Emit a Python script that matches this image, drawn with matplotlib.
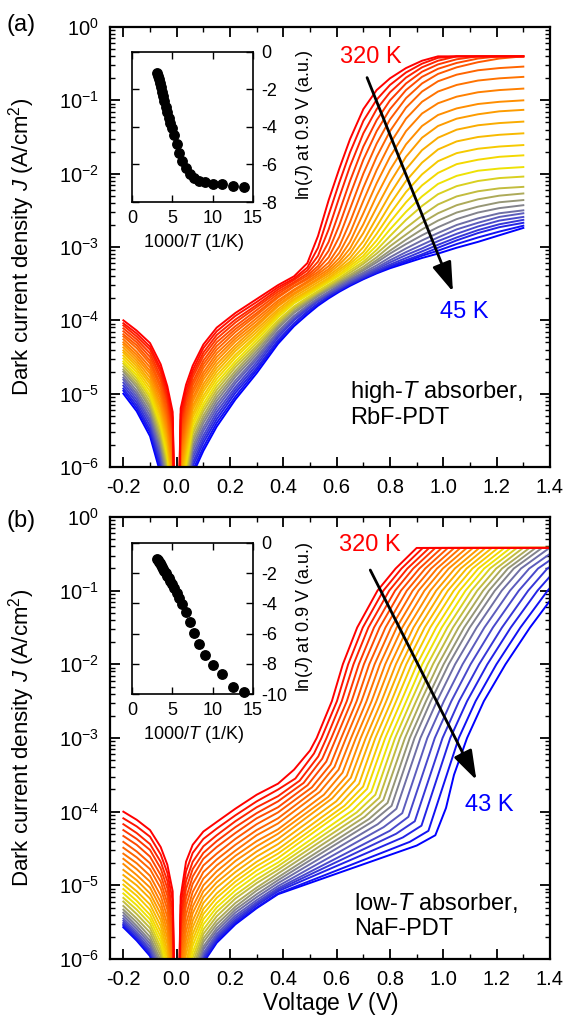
import matplotlib
matplotlib.use("Agg")
import matplotlib.pyplot as plt
from matplotlib.colors import LinearSegmentedColormap
from matplotlib.patches import FancyArrowPatch
from matplotlib.ticker import (MultipleLocator, FixedLocator, LogLocator, LogFormatterMathtext,
                               NullFormatter, FormatStrFormatter)

plt.rcParams['font.family'] = ['Liberation Sans', 'DejaVu Sans']
plt.rcParams['mathtext.fontset'] = 'custom'
plt.rcParams['mathtext.rm'] = 'Liberation Sans'
plt.rcParams['mathtext.it'] = 'Liberation Sans:italic'
plt.rcParams['axes.unicode_minus'] = False

# temperatures of the J-V curves (K), hot -> cold
temps_a = [320, 310, 300, 290, 280, 270, 260, 250, 240, 230, 220, 210, 200, 190,
           180, 170, 160, 150, 140, 130, 120, 110, 100, 90, 80, 70, 58, 45]
temps_b = [320, 310, 300, 290, 280, 270, 260, 250, 240, 230, 220, 210, 200, 190,
           180, 170, 160, 150, 140, 130, 120, 110, 100, 90, 80, 70, 56, 43]

# voltage nodes of the low-bias part shared by all curves (V)
v_lo = [-0.2, -0.15, -0.1, -0.06, -0.035, -0.015, 0.0, 0.015, 0.035, 0.06, 0.1, 0.15, 0.22, 0.3]

# panel (a), low bias: log10 J, one row per node of v_lo, one column per curve
logj_a_lo = [
    [-4.00, -4.04, -4.07, -4.11, -4.15, -4.19, -4.22, -4.26, -4.30, -4.33, -4.37, -4.41, -4.44, -4.48,
     -4.52, -4.56, -4.59, -4.63, -4.67, -4.70, -4.74, -4.78, -4.81, -4.85, -4.89, -4.93, -4.96, -5.00],
    [-4.14, -4.18, -4.22, -4.26, -4.30, -4.34, -4.38, -4.43, -4.47, -4.51, -4.55, -4.59, -4.63, -4.67,
     -4.71, -4.75, -4.79, -4.83, -4.87, -4.91, -4.96, -5.00, -5.04, -5.08, -5.12, -5.16, -5.20, -5.24],
    [-4.31, -4.36, -4.40, -4.45, -4.50, -4.55, -4.59, -4.64, -4.69, -4.73, -4.78, -4.83, -4.87, -4.92,
     -4.97, -5.02, -5.06, -5.11, -5.16, -5.20, -5.25, -5.30, -5.35, -5.39, -5.44, -5.49, -5.53, -5.58],
    [-4.60, -4.66, -4.71, -4.77, -4.82, -4.88, -4.93, -4.99, -5.04, -5.10, -5.16, -5.21, -5.27, -5.32,
     -5.38, -5.43, -5.49, -5.54, -5.60, -5.66, -5.71, -5.77, -5.82, -5.88, -5.93, -5.99, -6.04, -6.10],
    [-4.90, -4.96, -5.03, -5.09, -5.15, -5.22, -5.28, -5.34, -5.40, -5.47, -5.53, -5.59, -5.66, -5.72,
     -5.78, -5.84, -5.91, -5.97, -6.03, -6.10, -6.16, -6.22, -6.29, -6.35, -6.41, -6.47, -6.54, -6.60],
    [-5.25, -5.33, -5.41, -5.49, -5.57, -5.65, -5.73, -5.81, -5.89, -5.97, -6.05, -6.13, -6.21, -6.29,
     -6.37, -6.44, -6.52, -6.60, -6.68, -6.76, -6.84, -6.92, -7.00, -7.08, -7.16, -7.24, -7.32, -7.40],
    [-8.0] * 28,
    [-5.20, -5.28, -5.36, -5.44, -5.53, -5.61, -5.69, -5.77, -5.85, -5.93, -6.02, -6.10, -6.18, -6.26,
     -6.34, -6.42, -6.50, -6.59, -6.67, -6.75, -6.83, -6.91, -6.99, -7.07, -7.16, -7.24, -7.32, -7.40],
    [-4.88, -4.95, -5.02, -5.09, -5.16, -5.24, -5.31, -5.38, -5.45, -5.52, -5.59, -5.66, -5.73, -5.80,
     -5.88, -5.95, -6.02, -6.09, -6.16, -6.23, -6.30, -6.37, -6.44, -6.52, -6.59, -6.66, -6.73, -6.80],
    [-4.62, -4.68, -4.73, -4.78, -4.84, -4.89, -4.95, -5.00, -5.06, -5.11, -5.17, -5.22, -5.28, -5.33,
     -5.39, -5.44, -5.50, -5.55, -5.61, -5.66, -5.72, -5.77, -5.83, -5.88, -5.94, -5.99, -6.05, -6.10],
    [-4.33, -4.38, -4.44, -4.49, -4.55, -4.60, -4.65, -4.71, -4.76, -4.81, -4.87, -4.92, -4.97, -5.03,
     -5.08, -5.14, -5.19, -5.24, -5.30, -5.35, -5.40, -5.46, -5.51, -5.57, -5.62, -5.67, -5.73, -5.78],
    [-4.10, -4.15, -4.20, -4.25, -4.30, -4.35, -4.40, -4.45, -4.50, -4.55, -4.60, -4.65, -4.70, -4.75,
     -4.80, -4.85, -4.90, -4.95, -5.00, -5.05, -5.10, -5.15, -5.20, -5.25, -5.30, -5.35, -5.40, -5.45],
    [-3.90, -3.94, -3.99, -4.03, -4.08, -4.12, -4.16, -4.21, -4.25, -4.29, -4.34, -4.38, -4.42, -4.47,
     -4.51, -4.56, -4.60, -4.64, -4.69, -4.73, -4.77, -4.82, -4.86, -4.91, -4.95, -4.99, -5.04, -5.08],
    [-3.71, -3.75, -3.79, -3.82, -3.86, -3.90, -3.93, -3.97, -4.01, -4.05, -4.08, -4.12, -4.16, -4.20,
     -4.23, -4.27, -4.31, -4.35, -4.38, -4.42, -4.46, -4.50, -4.53, -4.57, -4.61, -4.65, -4.68, -4.72],
]

# panel (a), higher bias: one row per curve on these nodes (V)
v_hi_a = [0.38, 0.44, 0.49, 0.53, 0.57, 0.61, 0.65, 0.7, 0.75, 0.8, 0.86, 0.92, 0.98, 1.05, 1.13, 1.21, 1.3]
logj_a_hi = [
    [-3.52, -3.40, -3.22, -2.85, -2.36, -1.93, -1.53, -1.12, -0.86, -0.70, -0.56, -0.46, -0.40, -0.40, -0.40, -0.40, -0.40],
    [-3.55, -3.43, -3.28, -3.01, -2.56, -2.12, -1.71, -1.28, -0.99, -0.79, -0.62, -0.50, -0.42, -0.40, -0.40, -0.40, -0.40],
    [-3.58, -3.45, -3.32, -3.12, -2.76, -2.32, -1.90, -1.45, -1.12, -0.89, -0.69, -0.55, -0.46, -0.40, -0.40, -0.40, -0.40],
    [-3.61, -3.48, -3.36, -3.20, -2.93, -2.52, -2.10, -1.63, -1.27, -1.00, -0.77, -0.61, -0.51, -0.44, -0.40, -0.40, -0.40],
    [-3.64, -3.50, -3.39, -3.26, -3.05, -2.70, -2.29, -1.81, -1.42, -1.12, -0.86, -0.68, -0.57, -0.49, -0.43, -0.40, -0.40],
    [-3.67, -3.53, -3.42, -3.30, -3.14, -2.86, -2.48, -2.00, -1.59, -1.26, -0.97, -0.77, -0.64, -0.55, -0.48, -0.43, -0.40],
    [-3.69, -3.54, -3.44, -3.34, -3.21, -2.99, -2.66, -2.19, -1.77, -1.42, -1.10, -0.88, -0.74, -0.65, -0.59, -0.56, -0.54],
    [-3.73, -3.58, -3.47, -3.37, -3.26, -3.08, -2.81, -2.37, -1.95, -1.59, -1.25, -1.02, -0.88, -0.79, -0.73, -0.70, -0.68],
    [-3.76, -3.60, -3.49, -3.40, -3.30, -3.15, -2.93, -2.54, -2.13, -1.77, -1.42, -1.18, -1.04, -0.95, -0.89, -0.86, -0.84],
    [-3.79, -3.63, -3.52, -3.43, -3.33, -3.20, -3.02, -2.69, -2.30, -1.95, -1.60, -1.35, -1.20, -1.11, -1.05, -1.02, -1.00],
    [-3.81, -3.65, -3.54, -3.45, -3.36, -3.24, -3.09, -2.81, -2.46, -2.12, -1.77, -1.51, -1.35, -1.25, -1.19, -1.15, -1.13],
    [-3.85, -3.68, -3.57, -3.48, -3.39, -3.28, -3.15, -2.92, -2.60, -2.28, -1.94, -1.68, -1.51, -1.40, -1.34, -1.31, -1.29],
    [-3.88, -3.71, -3.60, -3.51, -3.42, -3.31, -3.20, -3.00, -2.72, -2.42, -2.10, -1.85, -1.67, -1.56, -1.50, -1.47, -1.45],
    [-3.91, -3.73, -3.62, -3.53, -3.44, -3.34, -3.23, -3.07, -2.82, -2.55, -2.25, -2.01, -1.83, -1.72, -1.66, -1.63, -1.61],
    [-3.93, -3.75, -3.64, -3.55, -3.46, -3.37, -3.26, -3.12, -2.91, -2.66, -2.39, -2.16, -1.99, -1.87, -1.81, -1.77, -1.75],
    [-3.96, -3.77, -3.66, -3.57, -3.48, -3.39, -3.29, -3.16, -2.98, -2.76, -2.52, -2.31, -2.14, -2.03, -1.96, -1.93, -1.91],
    [-4.00, -3.81, -3.69, -3.60, -3.51, -3.42, -3.32, -3.20, -3.04, -2.85, -2.63, -2.44, -2.28, -2.17, -2.10, -2.06, -2.04],
    [-4.03, -3.83, -3.71, -3.62, -3.53, -3.44, -3.35, -3.23, -3.09, -2.93, -2.74, -2.57, -2.42, -2.31, -2.24, -2.20, -2.18],
    [-4.05, -3.85, -3.73, -3.63, -3.55, -3.46, -3.38, -3.27, -3.14, -2.99, -2.83, -2.67, -2.54, -2.43, -2.35, -2.30, -2.27],
    [-4.08, -3.88, -3.75, -3.65, -3.57, -3.48, -3.40, -3.30, -3.18, -3.05, -2.90, -2.76, -2.64, -2.53, -2.45, -2.39, -2.36],
    [-4.11, -3.90, -3.77, -3.67, -3.58, -3.50, -3.42, -3.32, -3.21, -3.09, -2.96, -2.84, -2.73, -2.62, -2.53, -2.47, -2.43],
    [-4.15, -3.94, -3.80, -3.70, -3.61, -3.52, -3.44, -3.35, -3.25, -3.14, -3.02, -2.91, -2.81, -2.70, -2.61, -2.54, -2.50],
    [-4.17, -3.95, -3.81, -3.71, -3.62, -3.54, -3.46, -3.37, -3.28, -3.18, -3.07, -2.97, -2.87, -2.76, -2.67, -2.59, -2.54],
    [-4.20, -3.98, -3.83, -3.73, -3.64, -3.56, -3.48, -3.39, -3.30, -3.21, -3.11, -3.02, -2.92, -2.82, -2.72, -2.64, -2.59],
    [-4.23, -4.00, -3.85, -3.74, -3.65, -3.57, -3.49, -3.41, -3.32, -3.24, -3.15, -3.06, -2.97, -2.87, -2.77, -2.69, -2.63],
    [-4.27, -4.04, -3.88, -3.77, -3.67, -3.59, -3.51, -3.42, -3.34, -3.26, -3.18, -3.10, -3.01, -2.91, -2.81, -2.73, -2.67],
    [-4.29, -4.05, -3.89, -3.78, -3.68, -3.59, -3.51, -3.43, -3.35, -3.27, -3.20, -3.12, -3.05, -2.96, -2.87, -2.79, -2.71],
    [-4.32, -4.08, -3.92, -3.80, -3.70, -3.61, -3.53, -3.44, -3.36, -3.29, -3.22, -3.15, -3.09, -3.01, -2.93, -2.84, -2.74],
]

# panel (b), low bias: one row per node of v_lo
logj_b_lo = [
    [-4.00, -4.09, -4.17, -4.25, -4.33, -4.41, -4.49, -4.57, -4.64, -4.71, -4.79, -4.86, -4.93, -4.99,
     -5.05, -5.11, -5.17, -5.22, -5.28, -5.33, -5.37, -5.41, -5.45, -5.48, -5.51, -5.53, -5.55, -5.57],
    [-4.11, -4.20, -4.29, -4.37, -4.45, -4.54, -4.62, -4.70, -4.78, -4.86, -4.93, -5.00, -5.08, -5.14,
     -5.21, -5.27, -5.33, -5.39, -5.45, -5.50, -5.55, -5.59, -5.63, -5.66, -5.68, -5.71, -5.73, -5.75],
    [-4.25, -4.34, -4.44, -4.52, -4.61, -4.70, -4.78, -4.87, -4.95, -5.03, -5.11, -5.18, -5.26, -5.33,
     -5.40, -5.46, -5.52, -5.58, -5.64, -5.70, -5.75, -5.79, -5.83, -5.87, -5.89, -5.92, -5.94, -5.96],
    [-4.48, -4.58, -4.68, -4.77, -4.86, -4.95, -5.04, -5.14, -5.23, -5.31, -5.39, -5.47, -5.55, -5.63,
     -5.70, -5.77, -5.84, -5.90, -5.96, -6.02, -6.07, -6.12, -6.16, -6.20, -6.23, -6.25, -6.28, -6.30],
    [-4.72, -4.83, -4.94, -5.04, -5.14, -5.24, -5.33, -5.43, -5.53, -5.62, -5.71, -5.80, -5.89, -5.97,
     -6.05, -6.13, -6.20, -6.26, -6.33, -6.39, -6.45, -6.50, -6.55, -6.59, -6.62, -6.65, -6.68, -6.70],
    [-5.08, -5.21, -5.34, -5.45, -5.57, -5.68, -5.80, -5.92, -6.03, -6.14, -6.24, -6.34, -6.45, -6.54,
     -6.63, -6.73, -6.81, -6.89, -6.97, -7.04, -7.11, -7.17, -7.23, -7.27, -7.31, -7.34, -7.38, -7.40],
    [-8.0] * 28,
    [-5.15, -5.27, -5.40, -5.51, -5.62, -5.74, -5.85, -5.96, -6.07, -6.17, -6.28, -6.38, -6.48, -6.57,
     -6.66, -6.75, -6.83, -6.91, -6.98, -7.05, -7.12, -7.18, -7.23, -7.28, -7.31, -7.34, -7.38, -7.40],
    [-4.68, -4.81, -4.94, -5.05, -5.17, -5.28, -5.40, -5.52, -5.63, -5.74, -5.84, -5.94, -6.05, -6.14,
     -6.23, -6.33, -6.41, -6.49, -6.57, -6.64, -6.71, -6.77, -6.83, -6.87, -6.91, -6.94, -6.98, -7.00],
    [-4.45, -4.56, -4.68, -4.78, -4.88, -4.98, -5.09, -5.19, -5.29, -5.38, -5.48, -5.57, -5.66, -5.74,
     -5.82, -5.91, -5.98, -6.05, -6.12, -6.18, -6.24, -6.30, -6.35, -6.39, -6.42, -6.45, -6.48, -6.50],
    [-4.27, -4.37, -4.47, -4.56, -4.64, -4.73, -4.82, -4.91, -5.00, -5.08, -5.16, -5.24, -5.32, -5.39,
     -5.46, -5.53, -5.60, -5.66, -5.72, -5.77, -5.83, -5.87, -5.92, -5.95, -5.98, -6.01, -6.03, -6.05],
    [-4.14, -4.23, -4.32, -4.40, -4.48, -4.57, -4.65, -4.73, -4.81, -4.89, -4.96, -5.03, -5.11, -5.17,
     -5.24, -5.30, -5.36, -5.42, -5.48, -5.53, -5.58, -5.62, -5.66, -5.69, -5.71, -5.74, -5.76, -5.78],
    [-3.96, -4.05, -4.13, -4.21, -4.29, -4.37, -4.45, -4.53, -4.60, -4.67, -4.75, -4.82, -4.89, -4.95,
     -5.01, -5.07, -5.13, -5.18, -5.24, -5.29, -5.33, -5.37, -5.41, -5.44, -5.47, -5.49, -5.51, -5.53],
    [-3.77, -3.86, -3.94, -4.02, -4.09, -4.17, -4.25, -4.32, -4.40, -4.47, -4.54, -4.61, -4.68, -4.74,
     -4.80, -4.86, -4.92, -4.97, -5.03, -5.07, -5.12, -5.16, -5.20, -5.23, -5.25, -5.27, -5.30, -5.31],
]

# panel (b), higher bias: (V, log10 J) points of each curve beyond 0.3 V
logj_b_hi = [
    [(0.38, -3.62), (0.44, -3.43), (0.500, -3.17), (0.525, -3.0), (0.582, -2.5), (0.623, -2.0), (0.677, -1.5), (0.753, -1.0), (0.821, -0.7), (0.900, -0.42), (1.45, -0.42)],
    [(0.38, -3.70), (0.445, -3.55), (0.515, -3.21), (0.543, -3.0), (0.601, -2.5), (0.643, -2.0), (0.698, -1.5), (0.775, -1.0), (0.843, -0.7), (0.923, -0.42), (1.45, -0.42)],
    [(0.38, -3.79), (0.461, -3.58), (0.531, -3.25), (0.562, -3.0), (0.619, -2.5), (0.663, -2.0), (0.719, -1.5), (0.797, -1.0), (0.865, -0.7), (0.947, -0.42), (1.45, -0.42)],
    [(0.38, -3.86), (0.476, -3.61), (0.546, -3.28), (0.580, -3.0), (0.638, -2.5), (0.683, -2.0), (0.740, -1.5), (0.819, -1.0), (0.887, -0.7), (0.970, -0.42), (1.45, -0.42)],
    [(0.38, -3.94), (0.491, -3.64), (0.561, -3.32), (0.598, -3.0), (0.656, -2.5), (0.702, -2.0), (0.761, -1.5), (0.841, -1.0), (0.910, -0.7), (0.994, -0.42), (1.45, -0.42)],
    [(0.38, -4.01), (0.507, -3.67), (0.577, -3.36), (0.617, -3.0), (0.675, -2.5), (0.722, -2.0), (0.783, -1.5), (0.863, -1.0), (0.932, -0.7), (1.017, -0.42), (1.45, -0.42)],
    [(0.38, -4.09), (0.522, -3.70), (0.592, -3.39), (0.635, -3.0), (0.693, -2.5), (0.742, -2.0), (0.804, -1.5), (0.885, -1.0), (0.954, -0.7), (1.041, -0.42), (1.45, -0.42)],
    [(0.38, -4.16), (0.537, -3.73), (0.607, -3.43), (0.654, -3.0), (0.712, -2.5), (0.762, -2.0), (0.825, -1.5), (0.907, -1.0), (0.976, -0.7), (1.064, -0.42), (1.45, -0.42)],
    [(0.38, -4.24), (0.552, -3.77), (0.622, -3.47), (0.672, -3.0), (0.731, -2.5), (0.782, -2.0), (0.846, -1.5), (0.929, -1.0), (0.998, -0.7), (1.088, -0.42), (1.45, -0.42)],
    [(0.38, -4.30), (0.568, -3.80), (0.638, -3.51), (0.690, -3.0), (0.749, -2.5), (0.802, -2.0), (0.867, -1.5), (0.951, -1.0), (1.020, -0.7), (1.111, -0.42), (1.45, -0.42)],
    [(0.38, -4.37), (0.583, -3.82), (0.653, -3.54), (0.709, -3.0), (0.768, -2.5), (0.822, -2.0), (0.888, -1.5), (0.973, -1.0), (1.043, -0.7), (1.135, -0.42), (1.45, -0.42)],
    [(0.38, -4.44), (0.598, -3.86), (0.668, -3.58), (0.727, -3.0), (0.786, -2.5), (0.842, -2.0), (0.909, -1.5), (0.995, -1.0), (1.065, -0.7), (1.158, -0.42), (1.45, -0.42)],
    [(0.38, -4.51), (0.614, -3.89), (0.684, -3.62), (0.745, -3.0), (0.805, -2.5), (0.861, -2.0), (0.930, -1.5), (1.017, -1.0), (1.087, -0.7), (1.182, -0.42), (1.45, -0.42)],
    [(0.38, -4.57), (0.629, -3.92), (0.699, -3.66), (0.764, -3.0), (0.823, -2.5), (0.881, -2.0), (0.951, -1.5), (1.039, -1.0), (1.109, -0.7), (1.205, -0.42), (1.45, -0.42)],
    [(0.38, -4.63), (0.644, -3.94), (0.714, -3.69), (0.782, -3.0), (0.842, -2.5), (0.901, -2.0), (0.973, -1.5), (1.061, -1.0), (1.131, -0.7), (1.229, -0.42), (1.45, -0.42)],
    [(0.38, -4.69), (0.660, -3.98), (0.730, -3.73), (0.801, -3.0), (0.861, -2.5), (0.921, -2.0), (0.994, -1.5), (1.083, -1.0), (1.153, -0.7), (1.252, -0.42), (1.45, -0.42)],
    [(0.38, -4.74), (0.675, -4.01), (0.745, -3.77), (0.819, -3.0), (0.879, -2.5), (0.941, -2.0), (1.015, -1.5), (1.105, -1.0), (1.175, -0.7), (1.276, -0.42), (1.45, -0.42)],
    [(0.38, -4.79), (0.690, -4.04), (0.760, -3.81), (0.837, -3.0), (0.898, -2.5), (0.961, -2.0), (1.036, -1.5), (1.127, -1.0), (1.198, -0.7), (1.299, -0.42), (1.45, -0.42)],
    [(0.38, -4.84), (0.705, -4.07), (0.775, -3.84), (0.856, -3.0), (0.916, -2.5), (0.981, -2.0), (1.057, -1.5), (1.149, -1.0), (1.220, -0.7), (1.323, -0.42), (1.45, -0.42)],
    [(0.38, -4.89), (0.721, -4.10), (0.791, -3.88), (0.874, -3.0), (0.935, -2.5), (1.001, -2.0), (1.078, -1.5), (1.171, -1.0), (1.242, -0.7), (1.346, -0.42), (1.45, -0.42)],
    [(0.38, -4.93), (0.736, -4.13), (0.806, -3.92), (0.892, -3.0), (0.953, -2.5), (1.020, -2.0), (1.099, -1.5), (1.193, -1.0), (1.264, -0.7), (1.370, -0.42), (1.45, -0.42)],
    [(0.38, -4.97), (0.754, -4.17), (0.824, -3.96), (0.914, -3.0), (0.976, -2.5), (1.044, -2.0), (1.125, -1.5), (1.219, -1.0), (1.291, -0.7), (1.398, -0.42), (1.45, -0.42)],
    [(0.38, -5.01), (0.776, -4.21), (0.846, -4.02), (0.940, -3.0), (1.002, -2.5), (1.072, -2.0), (1.154, -1.5), (1.250, -1.0), (1.322, -0.7), (1.431, -0.42)],
    [(0.38, -5.04), (0.799, -4.26), (0.869, -4.07), (0.968, -3.0), (1.030, -2.5), (1.102, -2.0), (1.186, -1.5), (1.283, -1.0), (1.355, -0.7), (1.466, -0.42)],
    [(0.38, -5.06), (0.823, -4.30), (0.893, -4.13), (0.997, -3.0), (1.059, -2.5), (1.134, -2.0), (1.220, -1.5), (1.318, -1.0), (1.390, -0.7), (1.504, -0.42)],
    [(0.38, -5.08), (0.848, -4.35), (0.918, -4.19), (1.026, -3.0), (1.089, -2.5), (1.165, -2.0), (1.253, -1.5), (1.353, -1.0), (1.426, -0.7)],
    [(0.38, -5.11), (0.874, -4.41), (0.944, -4.26), (1.058, -3.0), (1.121, -2.5), (1.199, -2.0), (1.289, -1.5), (1.391, -1.0), (1.463, -0.7)],
    [(0.38, -5.12), (0.900, -4.46), (0.970, -4.32), (1.010, -3.95), (1.040, -3.50), (1.089, -3.0), (1.152, -2.5), (1.233, -2.0), (1.325, -1.5), (1.428, -1.0)],
]

# insets: ln(J) at 0.9 V versus 1000/T
inset_x = [3.12, 3.23, 3.33, 3.45, 3.57, 3.70, 3.85, 4.00, 4.17, 4.35, 4.55, 4.76, 5.00,
           5.26, 5.56, 5.88, 6.25, 6.67, 7.14, 7.69, 8.33, 9.09, 10.0, 11.1, 12.5, 13.9]
inset_a_y = [-1.14, -1.27, -1.46, -1.67, -1.89, -2.11, -2.36, -2.62, -2.91, -3.22, -3.51, -3.78, -4.07,
             -4.43, -4.93, -5.37, -5.80, -6.21, -6.50, -6.70, -6.86, -6.94, -7.02, -7.06, -7.14, -7.22]
inset_b_y = [-1.08, -1.16, -1.23, -1.33, -1.44, -1.57, -1.70, -1.84, -2.00, -2.16, -2.34, -2.52, -2.74,
             -2.98, -3.30, -3.65, -4.05, -4.60, -5.23, -5.93, -6.68, -7.43, -8.10, -8.70, -9.55, -9.86]

# major ticks of the J axis
j_ticks = [1e-6, 1e-5, 1e-4, 1e-3, 1e-2, 1e-1, 1e0]

cmap = LinearSegmentedColormap.from_list('hotcold', [
    (0.0, (1.0, 0.0, 0.0)), (0.15, (1.0, 0.3, 0.0)), (0.33, (1.0, 0.55, 0.0)),
    (0.55, (0.95, 0.9, 0.0)), (0.7, (0.6, 0.6, 0.45)), (0.82, (0.35, 0.35, 0.75)),
    (1.0, (0.0, 0.0, 1.0))])

fig = plt.figure(figsize=(5.68, 10.27), dpi=100)
ax_a = fig.add_axes([0.1937, 0.5453, 0.7746, 0.4284])
ax_b = fig.add_axes([0.1937, 0.0662, 0.7746, 0.4304])

n_a = len(temps_a)
for i in reversed(range(n_a)):
    v = v_lo + v_hi_a
    y = [10 ** row[i] for row in logj_a_lo] + [10 ** val for val in logj_a_hi[i]]
    ax_a.plot(v, y, color=cmap(i / (n_a - 1)), lw=1.4, solid_joinstyle='round')

n_b = len(temps_b)
for i in reversed(range(n_b)):
    v = v_lo + [p[0] for p in logj_b_hi[i]]
    y = [10 ** row[i] for row in logj_b_lo] + [10 ** p[1] for p in logj_b_hi[i]]
    ax_b.plot(v, y, color=cmap(i / (n_b - 1)), lw=1.4, solid_joinstyle='round')

for ax in (ax_a, ax_b):
    ax.set_yscale('log')
    ax.set_xlim(-0.25, 1.4)
    ax.set_ylim(1e-6, 1)
    ax.xaxis.set_major_locator(MultipleLocator(0.2))
    ax.xaxis.set_minor_locator(MultipleLocator(0.1))
    ax.xaxis.set_major_formatter(FormatStrFormatter('%.1f'))
    ax.yaxis.set_major_locator(FixedLocator(j_ticks))
    ax.yaxis.set_minor_locator(LogLocator(base=10, subs=range(2, 10), numticks=10))
    ax.yaxis.set_major_formatter(LogFormatterMathtext())
    ax.yaxis.set_minor_formatter(NullFormatter())
    ax.tick_params(which='both', direction='in', top=True, right=True, labelsize=14.5)
    ax.tick_params(which='major', length=7.5, width=1.3, pad=8)
    ax.tick_params(which='minor', length=3.5, width=1.0)
    for s in ax.spines.values():
        s.set_linewidth(1.6)
    ax.set_ylabel(r'Dark current density $\mathit{J}$ (A/cm$^2$)', fontsize=16)
    ax.yaxis.set_label_coords(-0.165, 0.5)

ax_b.set_xlabel(r'Voltage $\mathit{V}$ (V)', fontsize=16.5)
ax_b.xaxis.set_label_coords(0.5, -0.07)

# temperature arrows, drawn above the curves
for ax, start, end in ((ax_a, (0.714, 10 ** -0.69), (1.036, 10 ** -3.61)),
                       (ax_b, (0.726, 10 ** -0.72), (1.124, 10 ** -3.57))):
    ax.add_patch(FancyArrowPatch(start, end, arrowstyle='-|>,head_length=0.9,head_width=0.3',
                                 color='k', lw=2, mutation_scale=20, shrinkA=0, shrinkB=0,
                                 zorder=5))

ax_a.text(0.727, 10 ** -0.41, '320 K', color='#ff0000', fontsize=17, ha='center', va='center')
ax_a.text(1.08, 10 ** -3.88, '45 K', color='#0000ff', fontsize=17, ha='center', va='center')
ax_a.text(0.649, 10 ** -5.14, 'high-$\\mathit{T}$ absorber,\nRbF-PDT', fontsize=17,
          ha='left', va='center', linespacing=1.15)
ax_b.text(0.726, 10 ** -0.38, '320 K', color='#ff0000', fontsize=17, ha='center', va='center')
ax_b.text(1.171, 10 ** -3.91, '43 K', color='#0000ff', fontsize=17, ha='center', va='center')
ax_b.text(0.664, 10 ** -5.41, 'low-$\\mathit{T}$ absorber,\nNaF-PDT', fontsize=17,
          ha='left', va='center', linespacing=1.15)

fig.text(21 / 568, 1 - 25 / 1027, '(a)', fontsize=17, ha='center', va='center')
fig.text(21 / 568, 1 - 521 / 1027, '(b)', fontsize=17, ha='center', va='center')

# insets
in_a = fig.add_axes([0.2324, 0.8033, 0.2130, 0.1461])
in_b = fig.add_axes([0.2324, 0.3242, 0.2130, 0.1471])
for ins, yv, ymin in ((in_a, inset_a_y, -8), (in_b, inset_b_y, -10)):
    ins.plot(inset_x, yv, 'o', color='k', ms=6.8, clip_on=False)
    ins.set_xlim(0, 15)
    ins.set_ylim(ymin, 0)
    ins.xaxis.set_major_locator(MultipleLocator(5))
    ins.yaxis.set_major_locator(MultipleLocator(2))
    ins.tick_params(direction='in', top=True, right=True, labelleft=False, labelright=True,
                    labelsize=13, length=5, width=1.0, pad=6)
    for s in ins.spines.values():
        s.set_linewidth(1.2)
    ins.set_xlabel(r'1000/$\mathit{T}$ (1/K)', fontsize=13)
    ins.xaxis.set_label_coords(0.51, -0.20)
    ins.set_ylabel(r'ln($\mathit{J}$) at 0.9 V (a.u.)', fontsize=13)
    ins.yaxis.set_label_position('right')
    ins.yaxis.set_label_coords(1.34, 0.51)

fig.savefig('out.png', dpi=100)
